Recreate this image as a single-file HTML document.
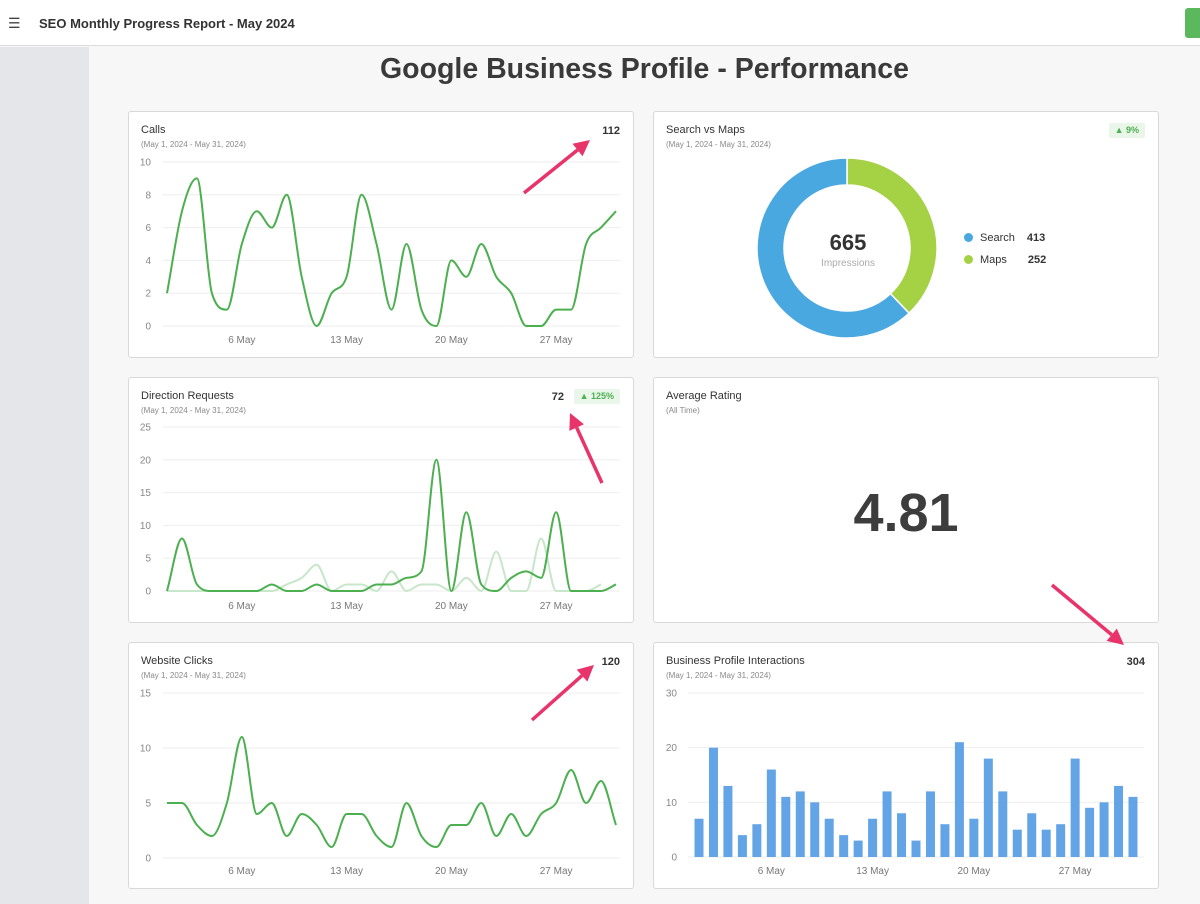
<!DOCTYPE html>
<html><head><meta charset="utf-8">
<style>
*{margin:0;padding:0;box-sizing:border-box}
body{width:1200px;height:904px;overflow:hidden;background:#f7f7f7;font-family:"Liberation Sans",sans-serif;color:#333;position:relative}
.abs{position:absolute}
.card{position:absolute;background:#fff;border:1px solid #d9d9d9;border-radius:3px}
.ct{position:absolute;left:12px;top:12px;font-size:11px;color:#333}
.cs{position:absolute;left:12px;top:28px;font-size:8px;color:#888}
.tot{position:absolute;top:13px;font-size:11px;font-weight:bold;color:#333}
.badge{position:absolute;top:11px;height:15px;background:#eaf6ea;color:#4caf50;font-size:9px;font-weight:bold;border-radius:2px;padding:2px 6px}
</style></head><body>
<div class="abs" style="left:0;top:0;width:1200px;height:46px;background:#fff;border-bottom:1px solid #ddd"></div>
<div class="abs" style="left:8px;top:17px;font-size:14px;line-height:12px;color:#444">&#9776;</div>
<div class="abs" style="left:39px;top:16px;font-size:13px;font-weight:bold;color:#333">SEO Monthly Progress Report - May 2024</div>
<div class="abs" style="left:1185px;top:8px;width:20px;height:30px;background:#5cb85c;border-radius:3px"></div>
<div class="abs" style="left:0;top:47px;width:89px;height:857px;background:#e4e6e9"></div>
<div class="abs" style="left:89px;width:1111px;top:53px;text-align:center;font-size:28.5px;font-weight:bold;color:#3a3a3a">Google Business Profile - Performance</div>

<div class="card" style="left:128px;top:111px;width:506px;height:247px">
<div class="ct">Calls</div><div class="cs">(May 1, 2024 - May 31, 2024)</div>
<div class="tot" style="right:13px">112</div></div>
<div class="card" style="left:653px;top:111px;width:506px;height:247px">
<div class="ct">Search vs Maps</div><div class="cs">(May 1, 2024 - May 31, 2024)</div>
<div class="badge" style="right:13px">&#9650; 9%</div>
<div class="abs" style="left:144px;top:118px;width:100px;text-align:center;font-size:22px;font-weight:bold;color:#333">665</div>
<div class="abs" style="left:144px;top:146px;width:100px;text-align:center;font-size:10px;color:#aaa">Impressions</div>
<div class="abs" style="left:310px;top:120px;font-size:11px"><span style="display:inline-block;width:9px;height:9px;border-radius:50%;background:#4aa8e0;margin-right:7px;vertical-align:-1px"></span>Search<b style="margin-left:12px">413</b></div>
<div class="abs" style="left:310px;top:142px;font-size:11px"><span style="display:inline-block;width:9px;height:9px;border-radius:50%;background:#a5d145;margin-right:7px;vertical-align:-1px"></span>Maps<b style="margin-left:21px">252</b></div>
</div>
<div class="card" style="left:128px;top:377px;width:506px;height:246px">
<div class="ct">Direction Requests</div><div class="cs">(May 1, 2024 - May 31, 2024)</div>
<div class="tot" style="right:69px">72</div>
<div class="badge" style="right:13px">&#9650; 125%</div></div>
<div class="card" style="left:653px;top:377px;width:506px;height:246px">
<div class="ct">Average Rating</div><div class="cs">(All Time)</div>
<div class="abs" style="left:0;width:100%;top:104px;text-align:center;font-size:54px;font-weight:bold;color:#3d3d3d">4.81</div></div>
<div class="card" style="left:128px;top:642px;width:506px;height:247px">
<div class="ct">Website Clicks</div><div class="cs">(May 1, 2024 - May 31, 2024)</div>
<div class="tot" style="right:13px">120</div></div>
<div class="card" style="left:653px;top:642px;width:506px;height:247px">
<div class="ct">Business Profile Interactions</div><div class="cs">(May 1, 2024 - May 31, 2024)</div>
<div class="tot" style="right:13px">304</div></div>

<svg id="ov" class="abs" style="left:0;top:0" width="1200" height="904" font-family="Liberation Sans, sans-serif"></svg>
<script>
const days = Array.from({length:31},(_,i)=>i+1);
const xTickDays = [6,13,20,27];
const xTickLabels = ["6 May","13 May","20 May","27 May"];
const callsValues = [2,7,9,2,1,5,7,6,8,3,0,2,3,8,5,1,5,1,0,4,3,5,3,2,0,0,1,1,5,6,7];
const callsTicks = [0,2,4,6,8,10];
const directionValues = [0,8,1,0,0,0,0,1,0,0,1,0,0,0,1,1,2,3,20,0,12,1,0,2,3,2,12,0,0,0,1];
const directionPrevValues = [0,0,0,0,0,0,0,0,1,2,4,0,1,1,0,3,0,1,1,0,2,0,6,0,0,8,0,0,0,1];
const directionTicks = [0,5,10,15,20,25];
const websiteValues = [5,5,3,2,5,11,4,5,2,4,3,1,4,4,2,1,5,2,1,3,3,5,2,4,2,4,5,8,5,7,3];
const websiteTicks = [0,5,10,15];
const interactionValues = [7,20,13,4,6,16,11,12,10,7,4,3,7,12,8,3,12,6,21,7,18,12,5,8,5,6,18,9,10,13,11];
const interactionTicks = [0,10,20,30];
const donutLabels = ["Maps","Search"];
const donutValues = [252,413];

const NS="http://www.w3.org/2000/svg", ov=document.getElementById('ov');
function mk(t,a,p){const e=document.createElementNS(NS,t);for(const k in a)e.setAttribute(k,a[k]);(p||ov).appendChild(e);return e;}
function monoPath(pts){
  const n=pts.length,d=[],m=[];
  for(let i=0;i<n-1;i++)d.push((pts[i+1][1]-pts[i][1])/(pts[i+1][0]-pts[i][0]));
  for(let i=0;i<n;i++){if(i==0)m.push(d[0]);else if(i==n-1)m.push(d[n-2]);else m.push(d[i-1]*d[i]<=0?0:(d[i-1]+d[i])/2);}
  for(let i=0;i<n-1;i++){if(d[i]==0){m[i]=0;m[i+1]=0;continue;}const a=m[i]/d[i],b=m[i+1]/d[i],s=a*a+b*b;if(s>9){const t=3/Math.sqrt(s);m[i]=t*a*d[i];m[i+1]=t*b*d[i];}}
  let s="M"+pts[0][0]+","+pts[0][1];
  for(let i=0;i<n-1;i++){const h=(pts[i+1][0]-pts[i][0])/3;s+=" C"+(pts[i][0]+h)+","+(pts[i][1]+m[i]*h)+" "+(pts[i+1][0]-h)+","+(pts[i+1][1]-m[i+1]*h)+" "+pts[i+1][0]+","+pts[i+1][1];}
  return s;
}
function axes(cfg,prefix){
  const {x0,x1,d0,d1,y0,y1,vmax,ticks,labY,gx0,gx1,labX}=cfg;
  const X=d=>x0+(d-d0)*(x1-x0)/(d1-d0), Y=v=>y0+(y1-y0)*v/vmax;
  ticks.forEach(t=>{
    const g=mk('line',{x1:gx0,x2:gx1,y1:Y(t),y2:Y(t),stroke:'#eee','stroke-width':1});
    
    
    const l=mk('text',{x:labX,y:Y(t)+3.5,'text-anchor':'end','font-size':10,fill:'#888'});l.textContent=t;
    
    
  });
  xTickDays.forEach((d,i)=>{
    const l=mk('text',{x:X(d),y:labY,'text-anchor':'middle','font-size':10,fill:'#777'});l.textContent=xTickLabels[i];
    
    
  });
  return {X,Y};
}
function line(vals,ax,color,w,name){
  const p=mk('path',{d:monoPath(vals.map((v,i)=>[ax.X(days[i]),ax.Y(v)])),fill:'none',stroke:color,'stroke-width':w,'stroke-linejoin':'round'});
  
  
}
let a=axes({x0:167,x1:616,d0:1,d1:31,y0:326,y1:162,vmax:10,ticks:callsTicks,labY:343,gx0:163,gx1:620,labX:151},'calls');
line(callsValues,a,'#4caf50',2,'calls-line');
a=axes({x0:167,x1:616,d0:1,d1:31,y0:591,y1:427,vmax:25,ticks:directionTicks,labY:609,gx0:163,gx1:620,labX:151},'direction');
line(directionPrevValues,a,'#c8e6c9',2,'direction-previous-line');
line(directionValues,a,'#4caf50',2,'direction-line');
a=axes({x0:167,x1:616,d0:1,d1:31,y0:858,y1:693,vmax:15,ticks:websiteTicks,labY:874,gx0:163,gx1:620,labX:151},'website');
line(websiteValues,a,'#4caf50',2,'website-line');
a=axes({x0:699,x1:1133,d0:1,d1:31,y0:857,y1:693,vmax:30,ticks:interactionTicks,labY:874,gx0:688,gx1:1144,labX:677},'interactions');
interactionValues.forEach((v,i)=>{
  const r=mk('rect',{x:a.X(days[i])-4.5,y:a.Y(v),width:9,height:a.Y(0)-a.Y(v),fill:'#63a4e6'});
  
  
});
const cx=847,cy=248,R=90,r0=63,tot=donutValues.reduce((s,v)=>s+v,0),cols=['#a5d145','#4aa8e0'];
let ang=-Math.PI/2;
donutValues.forEach((v,i)=>{
  const a2=ang+v/tot*2*Math.PI,lg=(a2-ang)>Math.PI?1:0;
  const P=(rr,t)=>(cx+rr*Math.cos(t))+","+(cy+rr*Math.sin(t));
  const s=mk('path',{d:"M"+P(R,ang)+" A"+R+","+R+" 0 "+lg+" 1 "+P(R,a2)+" L"+P(r0,a2)+" A"+r0+","+r0+" 0 "+lg+" 0 "+P(r0,ang)+"Z",fill:cols[i],stroke:'#fff','stroke-width':1.5});
  
  
  ang=a2;
});
[[524,193,590,140],[602,483,570,413],[532,720,594,665],[1052,585,1124,645]].forEach(c=>{
  const [x1,y1,x2,y2]=c,dx=x2-x1,dy=y2-y1,L=Math.hypot(dx,dy),ux=dx/L,uy=dy/L,h=16,w=8;
  const bx=x2-ux*h,by=y2-uy*h;
  const l=mk('line',{x1,y1,x2:bx,y2:by,stroke:'#e8336b','stroke-width':3.5});
  
  
  const t=mk('polygon',{points:x2+","+y2+" "+(bx-uy*w)+","+(by+ux*w)+" "+(bx+uy*w)+","+(by-ux*w),fill:'#e8336b'});
  
  
});
</script>
</body></html>
